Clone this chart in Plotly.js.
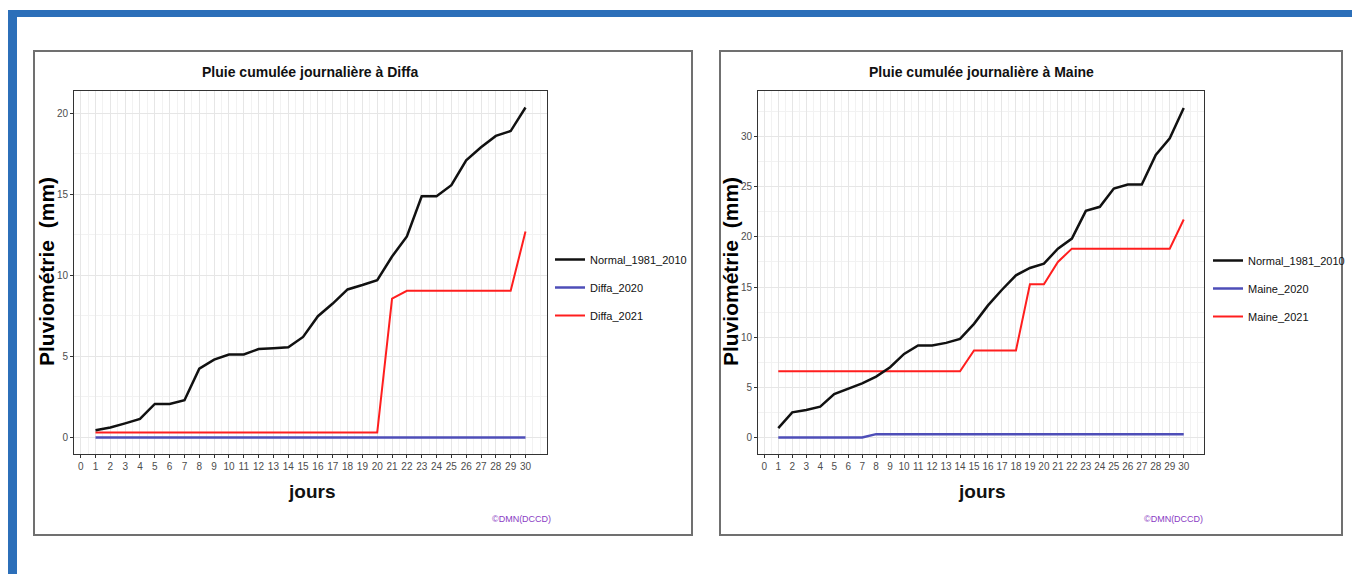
<!DOCTYPE html>
<html>
<head>
<meta charset="utf-8">
<script src="https://cdn.plot.ly/plotly-3.0.1.min.js"></script>
<style>html,body{margin:0;padding:0;background:#fff;}#chart{width:1352px;height:574px;}</style>
</head>
<body>
<div id="chart"></div>
<script>
const days = [1,2,3,4,5,6,7,8,9,10,11,12,13,14,15,16,17,18,19,20,21,22,23,24,25,26,27,28,29,30];
const xTicks = [0,1,2,3,4,5,6,7,8,9,10,11,12,13,14,15,16,17,18,19,20,21,22,23,24,25,26,27,28,29,30];

const diffaNormal = [0.45,0.62,0.87,1.14,2.07,2.07,2.3,4.24,4.8,5.12,5.12,5.45,5.5,5.56,6.2,7.48,8.26,9.13,9.4,9.7,11.16,12.4,14.88,14.88,15.56,17.09,17.9,18.6,18.9,20.35];
const diffa2020 = [0,0,0,0,0,0,0,0,0,0,0,0,0,0,0,0,0,0,0,0,0,0,0,0,0,0,0,0,0,0];
const diffa2021 = [0.3,0.3,0.3,0.3,0.3,0.3,0.3,0.3,0.3,0.3,0.3,0.3,0.3,0.3,0.3,0.3,0.3,0.3,0.3,0.3,8.57,9.05,9.05,9.05,9.05,9.05,9.05,9.05,9.05,12.7];

const maineNormal = [0.93,2.5,2.73,3.07,4.33,4.83,5.4,6.07,7.0,8.33,9.17,9.17,9.43,9.83,11.33,13.17,14.73,16.17,16.9,17.33,18.83,19.83,22.6,23.0,24.83,25.23,25.23,28.17,29.83,32.85];
const maine2020 = [0,0,0,0,0,0,0,0.33,0.33,0.33,0.33,0.33,0.33,0.33,0.33,0.33,0.33,0.33,0.33,0.33,0.33,0.33,0.33,0.33,0.33,0.33,0.33,0.33,0.33,0.33];
const maine2021 = [6.6,6.6,6.6,6.6,6.6,6.6,6.6,6.6,6.6,6.6,6.6,6.6,6.6,6.6,8.67,8.67,8.67,8.67,15.27,15.27,17.5,18.83,18.83,18.83,18.83,18.83,18.83,18.83,18.83,21.73];

const namesLeft = ['Normal_1981_2010','Diffa_2020','Diffa_2021'];
const namesRight = ['Normal_1981_2010','Maine_2020','Maine_2021'];
const titleLeft = 'Pluie cumulée journalière à Diffa';
const titleRight = 'Pluie cumulée journalière à Maine';
const yTitle = 'Pluviométrie  (mm)';
const xTitle = 'jours';
const caption = '©DMN(DCCD)';

const W = 1352, H = 574;
const px = v => v / W;
const py = v => 1 - v / H;

const cBlack = '#111111', cBlue = '#4e4eb8', cRed = '#ff1e1e';
const sans = '"Liberation Sans", Arial, sans-serif';

function tr(x, y, name, color, width, xa, ya, leg, grp, rank) {
  return {x: x, y: y, name: name, type: 'scatter', mode: 'lines',
    line: {color: color, width: width}, xaxis: xa, yaxis: ya, legend: leg,
    legendgroup: grp, legendrank: rank, hoverinfo: 'skip'};
}

const data = [
  tr(days, diffa2020, namesLeft[1], cBlue, 2.5, 'x', 'y', 'legend', 'b', 2),
  tr(days, diffa2021, namesLeft[2], cRed, 2, 'x', 'y', 'legend', 'c', 3),
  tr(days, diffaNormal, namesLeft[0], cBlack, 2.5, 'x', 'y', 'legend', 'a', 1),
  tr(days, maine2020, namesRight[1], cBlue, 2.5, 'x2', 'y2', 'legend2', 'e', 2),
  tr(days, maine2021, namesRight[2], cRed, 2, 'x2', 'y2', 'legend2', 'f', 3),
  tr(days, maineNormal, namesRight[0], cBlack, 2.5, 'x2', 'y2', 'legend2', 'd', 1)
];

const yDom = [py(454), py(91)];

function xAxis(dom, anchor) {
  return {domain: dom, anchor: anchor, range: [-0.45, 31.45], tickmode: 'array', tickvals: xTicks,
    ticktext: xTicks.map(String), tickangle: 0, ticks: 'outside', ticklen: 3, tickcolor: '#333', tickwidth: 1,
    tickfont: {family: sans, size: 10, color: '#4d4d4d'}, showgrid: true, gridcolor: '#e6e6e6', gridwidth: 1,
    minor: {dtick: 0.5, tick0: 0, showgrid: true, gridcolor: '#f2f2f2', gridwidth: 1},
    showline: true, mirror: true, linecolor: '#333', linewidth: 1, zeroline: false, fixedrange: true};
}
function yAxis(range, anchor) {
  return {domain: yDom, anchor: anchor, range: range, dtick: 5, tick0: 0, ticks: 'outside', ticklen: 3,
    tickcolor: '#333', tickwidth: 1, tickfont: {family: sans, size: 10, color: '#4d4d4d'},
    showgrid: true, gridcolor: '#e6e6e6', gridwidth: 1,
    minor: {dtick: 2.5, tick0: 0, showgrid: true, gridcolor: '#f2f2f2', gridwidth: 1},
    showline: true, mirror: true, linecolor: '#333', linewidth: 1, zeroline: false, fixedrange: true};
}

function ann(text, xPx, yPx, size, opts) {
  return Object.assign({text: text, x: px(xPx), y: py(yPx), xref: 'paper', yref: 'paper',
    showarrow: false, xanchor: 'center', yanchor: 'middle',
    font: {family: sans, size: size, color: '#000'}}, opts || {});
}

const legFont = {family: sans, size: 11, color: '#111'};

const layout = {
  width: W, height: H, margin: {l: 0, r: 0, t: 0, b: 0},
  paper_bgcolor: '#ffffff', plot_bgcolor: '#ffffff', showlegend: true,
  xaxis: xAxis([px(74), px(547)], 'y'),
  yaxis: yAxis([-1.02, 21.37], 'x'),
  xaxis2: xAxis([px(758), px(1204)], 'y2'),
  yaxis2: yAxis([-1.65, 34.55], 'x2'),
  legend: {x: px(550), y: py(245), xanchor: 'left', yanchor: 'top', traceorder: 'grouped', tracegroupgap: 9,
    font: legFont, bgcolor: 'rgba(0,0,0,0)', itemwidth: 30},
  legend2: {x: px(1208), y: py(246), xanchor: 'left', yanchor: 'top', traceorder: 'grouped', tracegroupgap: 9,
    font: legFont, bgcolor: 'rgba(0,0,0,0)', itemwidth: 30},
  shapes: [
    {type: 'rect', xref: 'paper', yref: 'paper', x0: px(8), x1: px(1352), y0: py(17), y1: py(10), fillcolor: '#2c6fb9', line: {width: 0}},
    {type: 'rect', xref: 'paper', yref: 'paper', x0: px(8), x1: px(17), y0: py(574), y1: py(10), fillcolor: '#2c6fb9', line: {width: 0}},
    {type: 'rect', xref: 'paper', yref: 'paper', x0: px(34), x1: px(692), y0: py(535), y1: py(51), line: {color: '#707070', width: 2}},
    {type: 'rect', xref: 'paper', yref: 'paper', x0: px(720), x1: px(1342), y0: py(535), y1: py(51), line: {color: '#707070', width: 2}}
  ],
  annotations: [
    ann('<b>' + titleLeft + '</b>', 310, 72, 14, {font: {family: sans, size: 14, color: '#111'}}),
    ann('<b>' + titleRight + '</b>', 981, 72, 14, {font: {family: sans, size: 14, color: '#111'}}),
    ann('<b>' + yTitle + '</b>', 46, 272, 21, {textangle: -90}),
    ann('<b>' + yTitle + '</b>', 730, 272, 21, {textangle: -90}),
    ann('<b>' + xTitle + '</b>', 311, 491, 19, {font: {family: sans, size: 19, color: '#111'}}),
    ann('<b>' + xTitle + '</b>', 981, 491, 19, {font: {family: sans, size: 19, color: '#111'}}),
    ann(caption, 553, 519, 10, {xanchor: 'right', font: {family: sans, size: 9, color: '#8a3cc4'}}),
    ann(caption, 1205, 519, 10, {xanchor: 'right', font: {family: sans, size: 9, color: '#8a3cc4'}})
  ]
};

Plotly.newPlot('chart', data, layout, {displayModeBar: false, staticPlot: true});
</script>
</body>
</html>
